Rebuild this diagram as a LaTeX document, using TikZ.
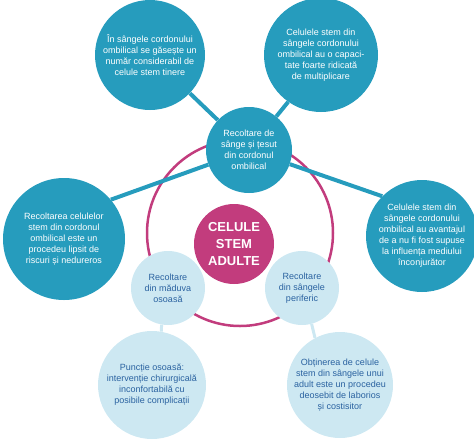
\documentclass[tikz,border=0pt]{standalone}
\usepackage{fontspec}
\setmainfont{Liberation Sans}
\usetikzlibrary{backgrounds}
\definecolor{tealc}{RGB}{38,156,189}
\definecolor{pinkc}{RGB}{194,60,125}
\definecolor{palec}{RGB}{205,232,242}
\definecolor{navyc}{RGB}{42,98,160}
\begin{document}
\begin{tikzpicture}[x=1pt,y=-1pt]
	\tikzstyle{fact}=[circle,fill=tealc,text=white,inner sep=0pt,align=center,font=\fontsize{9}{11}\selectfont]
	\tikzstyle{route}=[circle,fill=palec,text=navyc,inner sep=0pt,align=center,font=\fontsize{9}{11}\selectfont]
	\tikzstyle{core}=[circle,fill=pinkc,text=white,inner sep=0pt,align=center,font=\fontsize{13}{17}\selectfont\bfseries]
	\tikzstyle{tealedge}=[draw=tealc,line width=4pt]
	\tikzstyle{paleedge}=[draw=palec,line width=3pt]
	\useasboundingbox (0,0) rectangle (474,440);
	\begin{scope}
		% cordon ombilical
		\node [fact,minimum size=110] (young) at (150,55) {În sângele cordonului\\ombilical se găsește un\\număr considerabil de\\celule stem tinere};
		\node [fact,minimum size=114] (multi) at (321,55) {Celulele stem din\\sângele cordonului\\ombilical au o capaci-\\tate foarte ridicată\\de multiplicare};
		\node [fact,minimum size=86] (cord) at (249,150) {Recoltare de\\sânge și țesut\\din cordonul\\ombilical};
		\node [fact,minimum size=122] (safe) at (64,239) {Recoltarea celulelor\\stem din cordonul\\ombilical este un\\procedeu lipsit de\\riscuri și nedureros};
		\node [fact,minimum size=112] (env) at (422,236) {Celulele stem din\\sângele cordonului\\ombilical au avantajul\\de a nu fi fost supuse\\la influența mediului\\înconjurător};
		% celule adulte
		\node [core,minimum size=80] (stem) at (234,244) {CELULE\\STEM\\ADULTE};
		\node [route,minimum size=74] (bone) at (168,288) {Recoltare\\din măduva\\osoasă};
		\node [route,minimum size=74] (blood) at (302,288) {Recoltare\\din sângele\\periferic};
		\node [route,minimum size=108] (punct) at (152,385) {Puncție osoasă:\\intervenție chirurgicală\\inconfortabilă cu\\posibile complicații};
		\node [route,minimum size=106] (cost) at (340,385) {Obținerea de celule\\stem din sângele unui\\adult este un procedeu\\deosebit de laborios\\și costisitor};
		\begin{scope}[on background layer]
			\draw [pinkc,line width=2.5pt] (240,233) circle (93);
			\path[tealedge] (cord) -- (young);
			\path[tealedge] (cord) -- (multi.235);
			\path[tealedge] (cord) -- (safe.40);
			\path[tealedge] (cord) -- (env.135);
			\path[paleedge] (bone.-100) -- (punct.80);
			\path[paleedge] (blood.-75) -- (cost.118);
		\end{scope}
	\end{scope}
\end{tikzpicture}
\end{document}
